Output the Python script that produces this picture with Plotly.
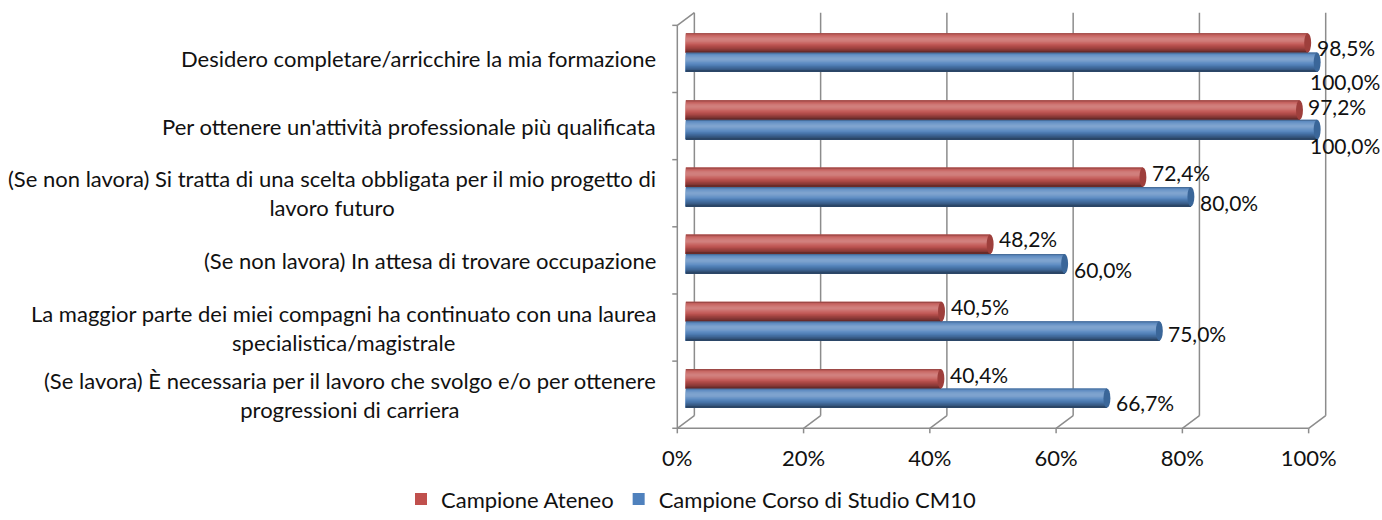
import plotly.graph_objects as go
import numpy as np

# ---------------- data ----------------
CATEGORIES = [
    "Desidero completare/arricchire la mia formazione",
    "Per ottenere un'attività professionale più qualificata",
    "(Se non lavora) Si tratta di una scelta obbligata per il mio progetto di<br>lavoro futuro",
    "(Se non lavora) In attesa di trovare occupazione",
    "La maggior parte dei miei compagni ha continuato con una laurea<br>specialistica/magistrale",
    "(Se lavora) È necessaria per il lavoro che svolgo e/o per ottenere<br>progressioni di carriera",
]
ATENEO = [98.5, 97.2, 72.4, 48.2, 40.5, 40.4]
CM10 = [100.0, 100.0, 80.0, 60.0, 75.0, 66.7]
SERIES_NAMES = ["Campione Ateneo", "Campione Corso di Studio CM10"]
X_TICKS = [0, 20, 40, 60, 80, 100]
X_TICK_LABELS = ["0%", "20%", "40%", "60%", "80%", "100%"]

# ---------------- style ----------------
FONT = "Lato"
FS = 22
FS_VAL = 21
TEXT_COLOR = "#111111"
COLORS = ["#C0504D", "#4F81BD"]
CAP_COLORS = ["#9E3F3C", "#3A6699"]
GRID = "#8c8c8c"
DX = 1.35      # 3D depth offset (x units)
DY = 0.094     # 3D depth offset (category units)
PADX = 1.0
PADY = 0.1
BAR_W = 0.29
CAP_HALF = 0.55
N_STRIPES = 16
# label offsets in screen px (down positive), per series
LABEL_DY = [[5, -4, -5, -6, -5, -4], [19, 16, 6, 6, 3, 4]]
LABEL_DX = [[7, 7, 7, 7, 7, 7], [-9, -9, 7, 7, 7, 7]]


def fmt(v):
    return f"{v:.1f}".replace(".", ",") + "%"


def hex_to_rgb(h):
    h = h.lstrip("#")
    return np.array([int(h[i:i + 2], 16) for i in (0, 2, 4)], dtype=float)


def shade(base, t):
    c = hex_to_rgb(base)
    light = 0.28 * np.exp(-((t - 0.32) / 0.22) ** 2)
    dark = 0.50 * max(0.0, (t - 0.55) / 0.45) ** 1.4 + 0.30 * max(0.0, (0.10 - t) / 0.10)
    c = c * (1 - dark)
    c = c + (255 - c) * light
    c = np.clip(c, 0, 255).astype(int)
    return f"rgb({c[0]},{c[1]},{c[2]})"


fig = go.Figure()
series = [ATENEO, CM10]
offsets = [-BAR_W, 0.0]
for s, vals in enumerate(series):
    fig.add_trace(go.Bar(
        x=vals, y=CATEGORIES, orientation="h", name=SERIES_NAMES[s],
        marker=dict(color=COLORS[s], line=dict(width=0)),
        width=BAR_W, offset=offsets[s], hoverinfo="x+name",
    ))
for s, vals in enumerate(series):
    h = BAR_W / N_STRIPES
    for i in range(N_STRIPES):
        t = (i + 0.5) / N_STRIPES
        fig.add_trace(go.Bar(
            x=vals, y=CATEGORIES, orientation="h", showlegend=False,
            marker=dict(color=shade(COLORS[s], t), line=dict(width=0)),
            width=BAR_W - i * h, offset=offsets[s] + i * h,
            hoverinfo="skip",
        ))

# ---------------- 3D frame ----------------
shapes = []
line = dict(color=GRID, width=1.5)
y_top_back, y_bot_back = -0.5 - DY, len(CATEGORIES) - 0.5 - DY
y_top_front, y_bot_front = -0.5 + DY, len(CATEGORIES) - 0.5 + DY
for v in X_TICKS:
    shapes.append(dict(type="line", xref="x", yref="y", x0=v + DX, x1=v + DX,
                       y0=y_top_back, y1=y_bot_back, line=line, layer="below"))
    shapes.append(dict(type="line", xref="x", yref="y", x0=v + DX, x1=v - DX,
                       y0=y_bot_back, y1=y_bot_front, line=line, layer="below"))
    shapes.append(dict(type="line", xref="x", yref="y", x0=v - DX, x1=v - DX,
                       y0=y_bot_front, y1=y_bot_front + 0.075, line=line, layer="below"))
shapes.append(dict(type="line", xref="x", yref="y", x0=-DX, x1=X_TICKS[-1] - DX,
                   y0=y_bot_front, y1=y_bot_front, line=line, layer="below"))
shapes.append(dict(type="line", xref="x", yref="y", x0=-DX, x1=-DX,
                   y0=y_top_front, y1=y_bot_front, line=line, layer="below"))
shapes.append(dict(type="line", xref="x", yref="y", x0=-DX, x1=DX,
                   y0=y_top_front, y1=y_top_back, line=line, layer="below"))
for k in range(len(CATEGORIES) + 1):
    yk = -0.5 + k + DY
    shapes.append(dict(type="line", xref="x", yref="y", x0=-DX - 0.8, x1=-DX,
                       y0=yk, y1=yk, line=line, layer="below"))
# rounded end caps of the cylinders
for s, vals in enumerate(series):
    for k, v in enumerate(vals):
        y0 = k + offsets[s]
        shapes.append(dict(type="circle", xref="x", yref="y",
                           x0=v - CAP_HALF, x1=v + CAP_HALF, y0=y0, y1=y0 + BAR_W,
                           fillcolor=CAP_COLORS[s], line=dict(width=0), layer="above"))

# ---------------- annotations ----------------
ann = []
for k, c in enumerate(CATEGORIES):
    ann.append(dict(x=-DX, y=k + DY, xref="x", yref="y", text=c, showarrow=False,
                    xanchor="right", yanchor="middle", align="center", xshift=-19,
                    font=dict(family=FONT, size=FS, color=TEXT_COLOR)))
for s, vals in enumerate(series):
    for k, v in enumerate(vals):
        ycen = k + offsets[s] + BAR_W / 2
        ann.append(dict(x=v, y=ycen, xref="x", yref="y", text=fmt(v), showarrow=False,
                        xanchor="left", yanchor="middle", xshift=LABEL_DX[s][k],
                        yshift=-LABEL_DY[s][k],
                        font=dict(family=FONT, size=FS_VAL, color=TEXT_COLOR)))

fig.update_layout(
    width=1382, height=520,
    margin=dict(l=671, r=50, t=6, b=85, autoexpand=False),
    paper_bgcolor="white", plot_bgcolor="white",
    barmode="overlay",
    font=dict(family=FONT, size=FS, color=TEXT_COLOR),
    shapes=shapes, annotations=ann,
    showlegend=True,
    legend=dict(orientation="h", xref="container", yref="container",
                x=0.5, xanchor="center", y=0.04, yanchor="middle",
                font=dict(family=FONT, size=FS, color=TEXT_COLOR),
                traceorder="normal"),
    xaxis=dict(range=[-DX - PADX, X_TICKS[-1] + DX + PADX], showgrid=False, zeroline=False,
               showline=False, tickmode="array", tickvals=[v - DX for v in X_TICKS],
               ticktext=X_TICK_LABELS, ticks="", ticklabelstandoff=8,
               tickfont=dict(family=FONT, size=FS, color=TEXT_COLOR), fixedrange=True),
    yaxis=dict(range=[len(CATEGORIES) - 0.5 + DY + PADY, -0.5 - DY - PADY],
               categoryorder="array", categoryarray=CATEGORIES,
               showgrid=False, zeroline=False, showline=False, showticklabels=False,
               ticks="", fixedrange=True),
)

fig.write_html("out.html", config={"displayModeBar": False},
               post_script="document.body.style.margin='0px';")
